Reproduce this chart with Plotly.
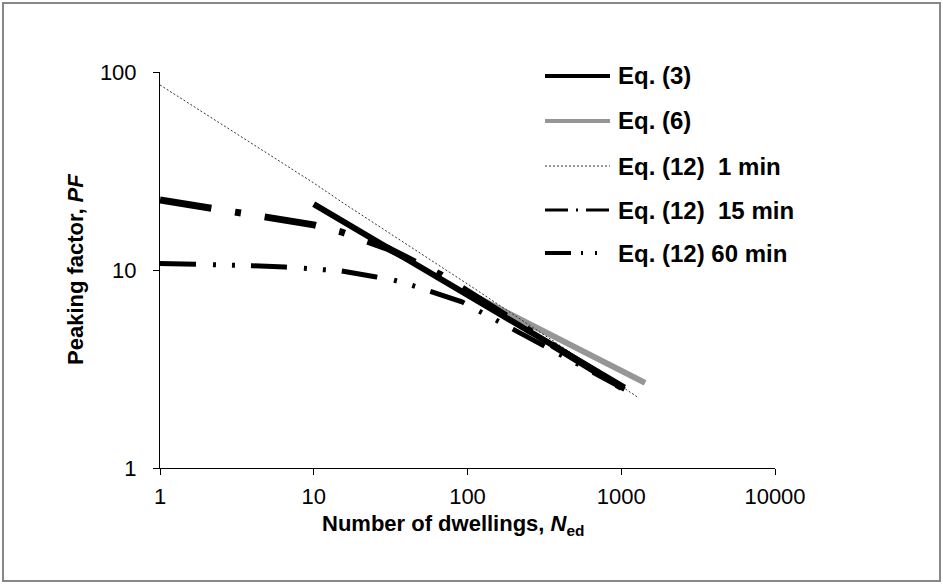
import plotly.graph_objects as go

# ---------------- data ----------------
eq3_n = [10, 30, 100, 300, 1050]
eq3_pf = [21.5, 13.0, 7.5, 4.5, 2.55]

eq6_n = [100, 400, 1430]
eq6_pf = [7.7, 4.44, 2.69]

eq12_1_n = [1, 10, 15, 100, 1300]
eq12_1_pf = [86, 27.5, 22.2, 8.5, 2.26]

eq12_15_n = [1, 3, 10, 15, 30, 68, 130, 400, 1050]
eq12_15_pf = [22.6, 19.5, 16.9, 15.6, 12.9, 9.4, 6.8, 3.95, 2.5]

eq12_60_n = [1, 2, 4, 6.5, 15, 25, 33, 43, 55, 92, 200, 500, 1050]
eq12_60_pf = [10.8, 10.7, 10.5, 10.35, 9.9, 9.25, 8.9, 8.4, 7.9, 6.9, 5.0, 3.4, 2.5]

x_tickvals = [1, 10, 100, 1000, 10000]
x_ticktext = ["1", "10", "100", "1000", "10000"]
y_tickvals = [1, 10, 100]
y_ticktext = ["1", "10", "100"]

legend_names = ["Eq. (3)", "Eq. (6)", "Eq. (12)\u00a0\u00a01 min",
                "Eq. (12)\u00a0\u00a015 min", "Eq. (12)\u00a060 min"]

x_title = "<b>Number of dwellings, <i>N</i><sub>ed</sub></b>"
y_title = "<b>Peaking factor, <i>PF</i></b>"

# ---------------- figure ----------------
W, H = 943, 584
ML, MR, MT, MB = 160, 168, 72, 116
PW, PH = W - ML - MR, H - MT - MB
FONT = "Liberation Sans, Arial, sans-serif"

def px_x(p):
    return (p - ML) / PW

def px_y(p):
    return (H - MB - p) / PH

fig = go.Figure()

styles = [
    dict(color="black", width=6, dash="solid"),
    dict(color="#969696", width=6, dash="solid"),
    dict(color="#333333", width=1, dash="2px,2px"),
    dict(color="black", width=7, dash="52px,24px,6px,24px"),
    dict(color="black", width=5, dash="36px,17px,3px,16px,3px,16px"),
]
series = [
    (eq3_n, eq3_pf), (eq6_n, eq6_pf), (eq12_1_n, eq12_1_pf),
    (eq12_15_n, eq12_15_pf), (eq12_60_n, eq12_60_pf),
]
order = [1, 2, 4, 3, 0]
for i in order:
    xs, ys = series[i]
    fig.add_trace(go.Scatter(x=xs, y=ys, mode="lines", name=legend_names[i],
                             line=styles[i], showlegend=False, hoverinfo="skip"))

# manual legend (sample lines + labels)
leg_rows = [76, 121, 166, 210, 253]
leg_styles = [
    dict(color="black", width=4, dash="solid"),
    dict(color="#969696", width=4, dash="solid"),
    dict(color="#333333", width=1, dash="2px,2px"),
    dict(color="black", width=3, dash="23px,8px,2px,8px"),
    dict(color="black", width=4, dash="26px,10px,2px,12px,2px,20px"),
]
shapes = []
annotations = []
for k, yrow in enumerate(leg_rows):
    shapes.append(dict(type="line", xref="paper", yref="paper",
                       x0=px_x(545), x1=px_x(610), y0=px_y(yrow), y1=px_y(yrow),
                       line=leg_styles[k]))
    annotations.append(dict(xref="paper", yref="paper", x=px_x(616), y=px_y(yrow),
                            xanchor="left", yanchor="middle", showarrow=False,
                            text="<b>" + legend_names[k] + "</b>",
                            font=dict(family=FONT, size=24, color="black")))

# axis titles
annotations.append(dict(xref="paper", yref="paper", x=px_x(453), y=px_y(525),
                        xanchor="center", yanchor="middle", showarrow=False,
                        text=x_title, font=dict(family=FONT, size=22, color="black")))
annotations.append(dict(xref="paper", yref="paper", x=px_x(75), y=px_y(270),
                        xanchor="center", yanchor="middle", showarrow=False,
                        textangle=-90,
                        text=y_title, font=dict(family=FONT, size=22, color="black")))

# outer gray frame
shapes.append(dict(type="rect", xref="paper", yref="paper",
                   x0=px_x(3), x1=px_x(940), y0=px_y(581), y1=px_y(3),
                   line=dict(color="#878787", width=2), layer="below"))

fig.update_layout(
    width=W, height=H,
    margin=dict(l=ML, r=MR, t=MT, b=MB, pad=0),
    paper_bgcolor="white", plot_bgcolor="white",
    font=dict(family=FONT, size=22, color="black"),
    showlegend=False,
    shapes=shapes, annotations=annotations,
    xaxis=dict(type="log", range=[0, 4], tickvals=x_tickvals, ticktext=x_ticktext,
               showgrid=False, zeroline=False, showline=True, linecolor="black",
               linewidth=1, ticks="outside", ticklen=6, tickcolor="black",
               tickfont=dict(family=FONT, size=22, color="black"),
               ticklabelstandoff=3),
    yaxis=dict(type="log", range=[0, 2], tickvals=y_tickvals, ticktext=y_ticktext,
               showgrid=False, zeroline=False, showline=True, linecolor="black",
               linewidth=1, ticks="outside", ticklen=6, tickcolor="black",
               tickfont=dict(family=FONT, size=22, color="black"),
               ticklabelstandoff=12),
)

fig.write_html("out.html",
               config={"displayModeBar": False},
               post_script="document.body.style.margin='0px';"
                           "document.body.style.padding='0px';"
                           "document.body.style.overflow='hidden';")
